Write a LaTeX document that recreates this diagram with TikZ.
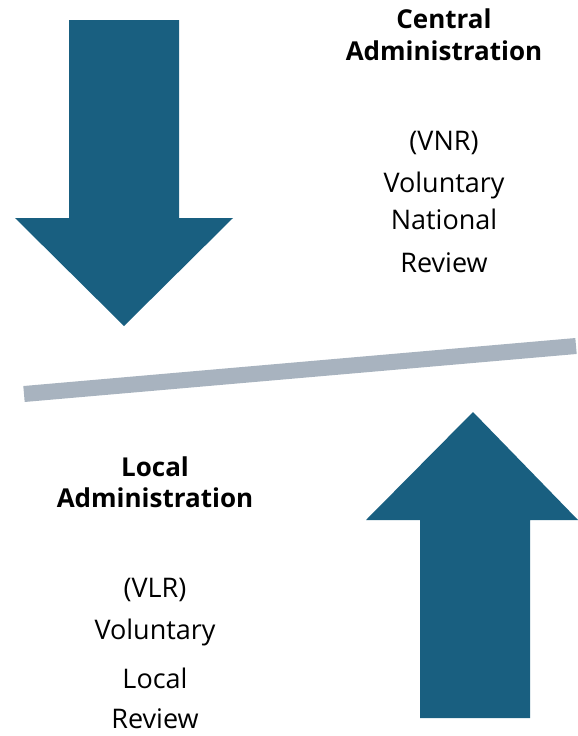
\documentclass[tikz,border=0pt]{standalone}
\usepackage{fontspec}
\setmainfont{Open Sans}
\definecolor{arrowblue}{HTML}{195F80}
\definecolor{bargray}{HTML}{A8B3BF}
\begin{document}
\begin{tikzpicture}[x=1pt,y=-1pt,
  bigarrow/.style={fill=arrowblue,draw=none},
  title/.style={font=\fontsize{26}{30}\selectfont\bfseries,inner sep=0pt},
  body/.style={font=\fontsize{27}{31}\selectfont,inner sep=0pt}]
\useasboundingbox (0,0) rectangle (578,736);
% down arrow
\fill[bigarrow] (69,20) -- (179,20) -- (179,218) -- (233,218) -- (124,326) -- (15,218) -- (69,218) -- cycle;
% up arrow
\fill[bigarrow] (473,412) -- (578,520) -- (530,520) -- (530,718) -- (420,718) -- (420,520) -- (366,520) -- cycle;
% bar
\coordinate (barL) at (24,394);
\coordinate (barR) at (576,346);
\draw[bargray,line width=16pt] (barL) -- (barR);
% right texts
\node[title] (c1) at (444,19) {Central};
\node[title] (c2) at (444,51) {Administration};
\node[body] (c3) at (444,143) {(VNR)};
\node[body] (c4) at (444,185) {Voluntary};
\node[body] (c5) at (444,219) {National};
\node[body] (c6) at (444,263) {Review};
% left texts
\node[title] (l1) at (155,467) {Local};
\node[title] (l2) at (155,498) {Administration};
\node[body] (l3) at (155,590) {(VLR)};
\node[body] (l4) at (155,632) {Voluntary};
\node[body] (l5) at (155,678) {Local};
\node[body] (l6) at (155,719) {Review};
\end{tikzpicture}
\end{document}
